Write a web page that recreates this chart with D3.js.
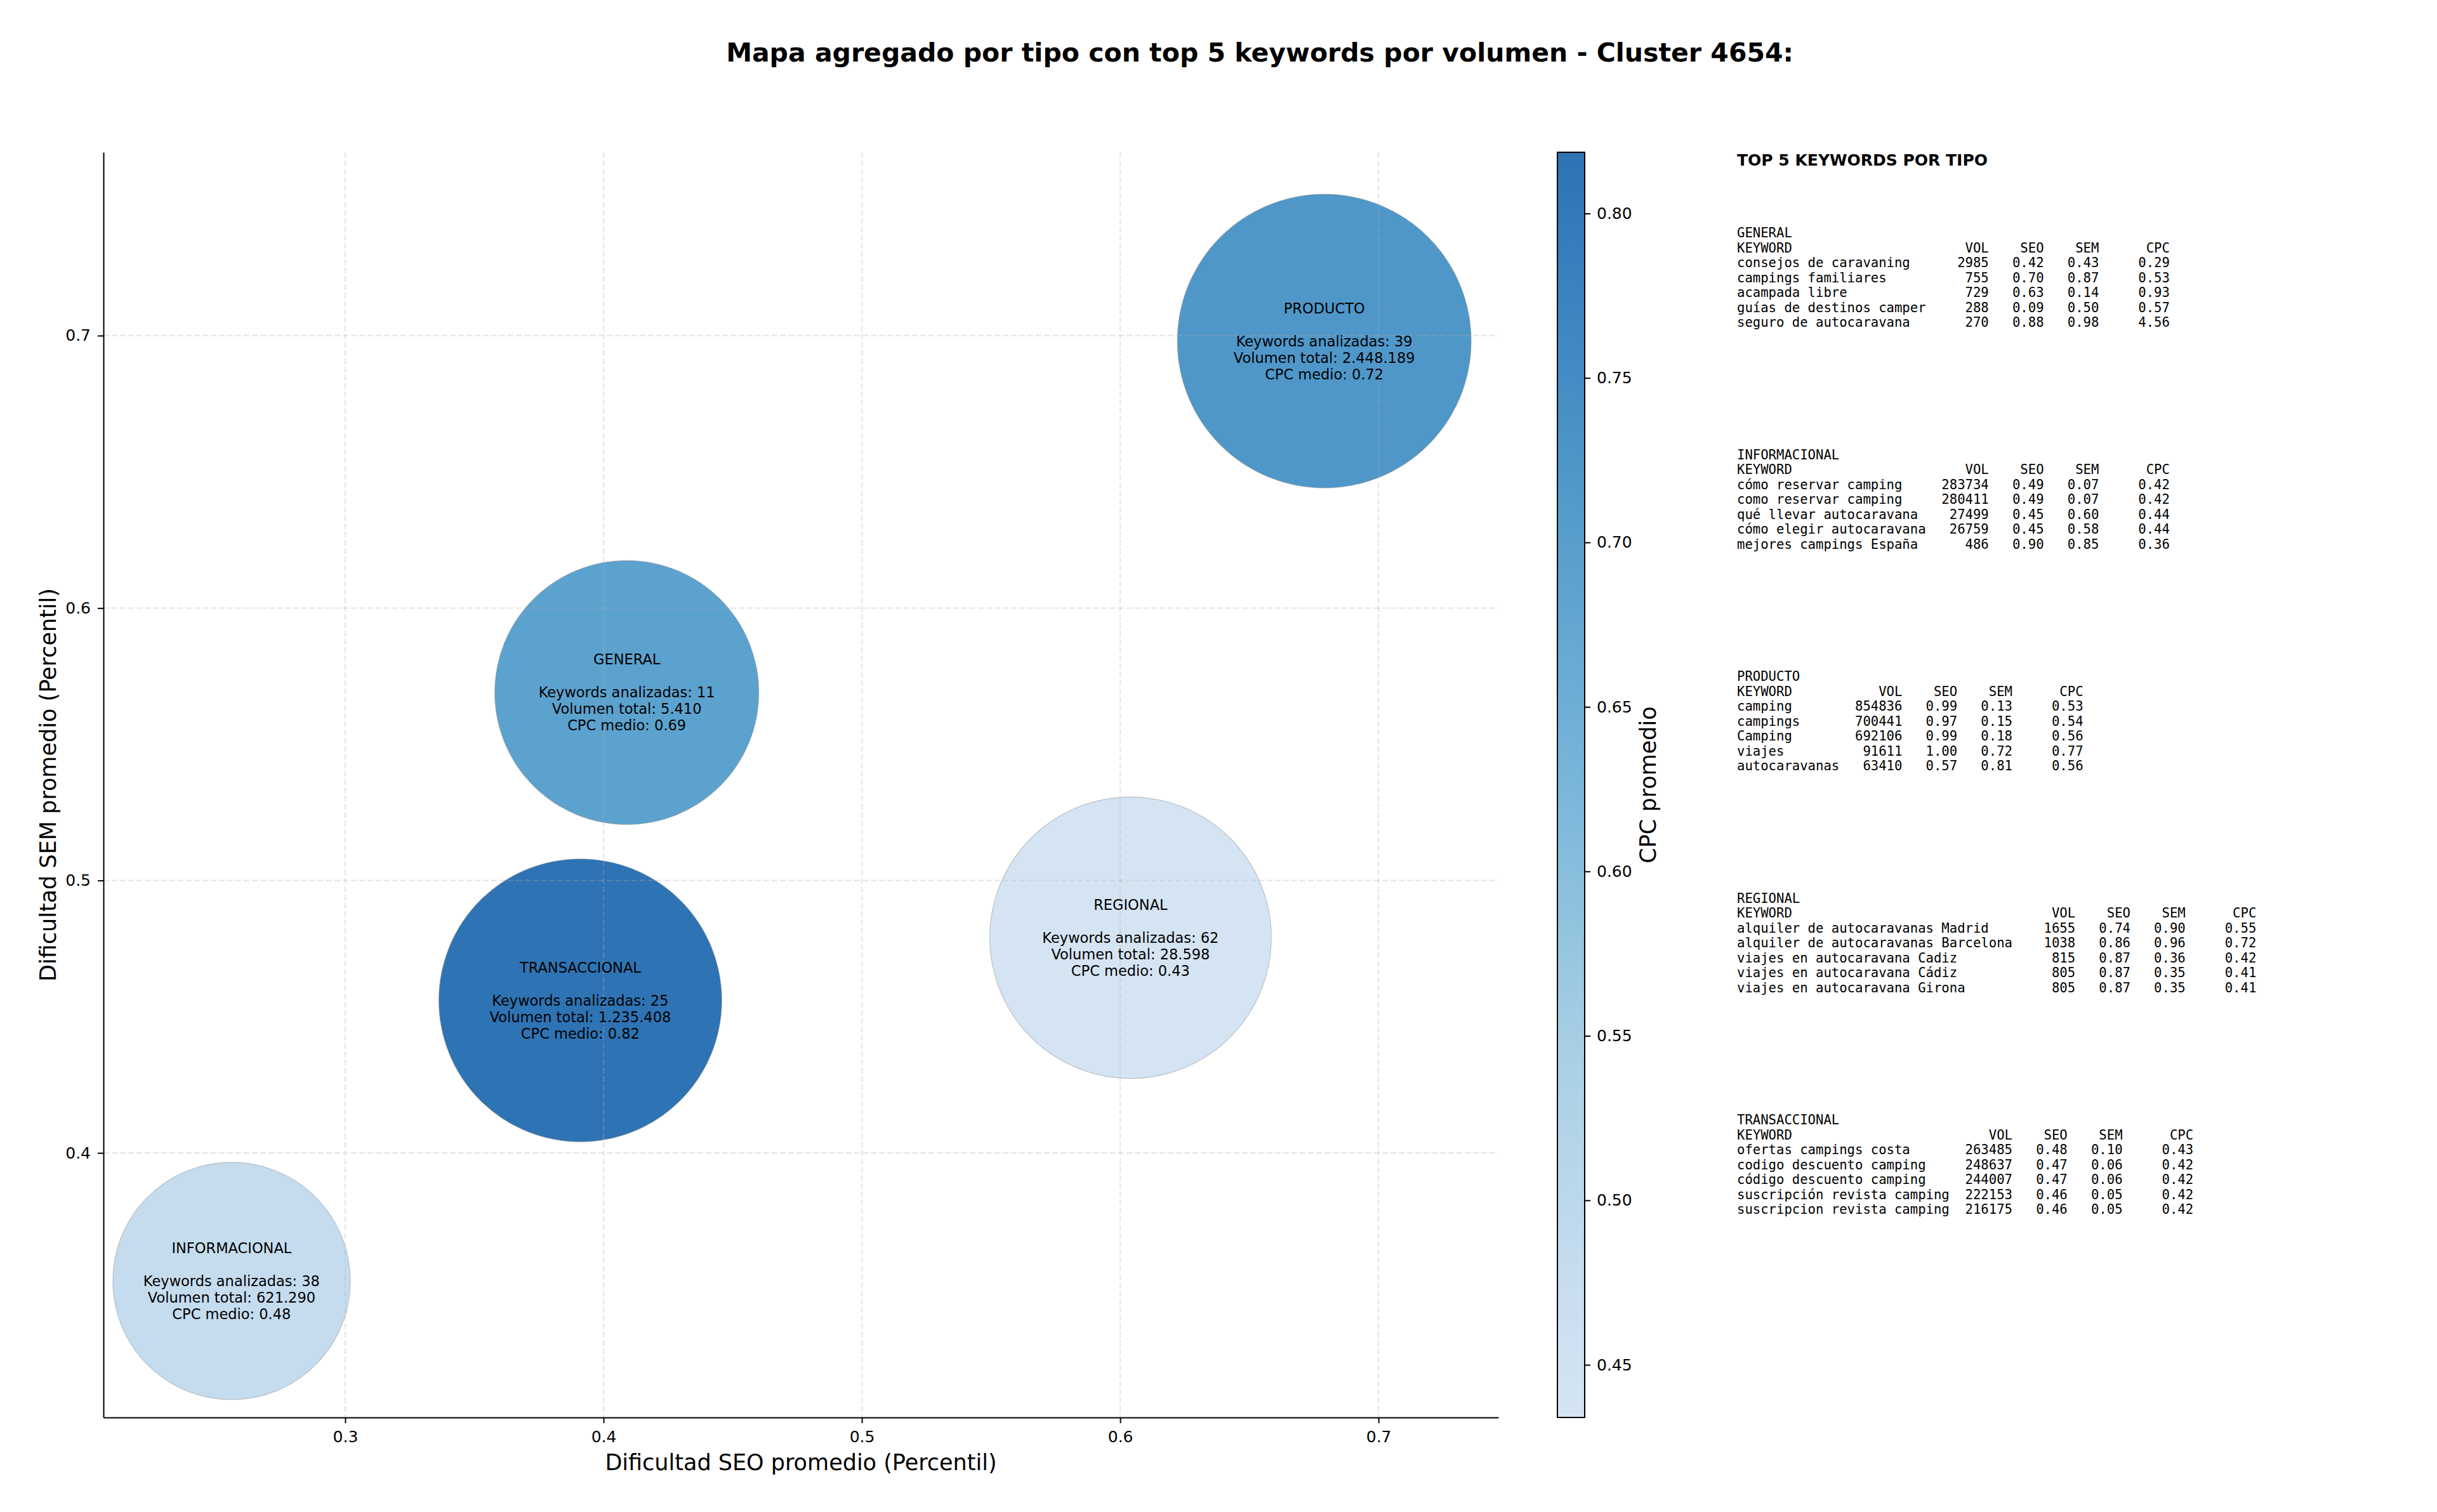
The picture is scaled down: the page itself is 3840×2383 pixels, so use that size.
<!DOCTYPE html>
<html>
<head>
<meta charset="utf-8">
<script src="https://d3js.org/d3.v7.min.js"></script>
<style>
  body { margin: 0; background: #fff; }
  text { font-family: "DejaVu Sans", sans-serif; fill: #000; }
  .mono { font-family: "DejaVu Sans Mono", monospace; white-space: pre; }
</style>
</head>
<body>
<script>
// Datos agregados por tipo
var tipos = ["GENERAL", "INFORMACIONAL", "PRODUCTO", "REGIONAL", "TRANSACCIONAL"];
var seoMedio = [0.409, 0.256, 0.679, 0.604, 0.391];
var semMedio = [0.569, 0.353, 0.698, 0.479, 0.456];
var numKeywords = [11, 38, 39, 62, 25];
var volumenTotal = [5410, 621290, 2448189, 28598, 1235408];
var cpcMedio = [0.69, 0.48, 0.72, 0.434, 0.8186];
// tamaño de marcador (area, pt^2)
var tamanoBurbuja = [27700, 22400, 34300, 31500, 31800];

var xTicks = [0.3, 0.4, 0.5, 0.6, 0.7];
var yTicks = [0.4, 0.5, 0.6, 0.7];
var cpcTicks = [0.45, 0.50, 0.55, 0.60, 0.65, 0.70, 0.75, 0.80];

// top 5 keywords: [keyword, vol, seo, sem, cpc]
var topGeneral = [
  ["consejos de caravaning", 2985, 0.42, 0.43, 0.29],
  ["campings familiares", 755, 0.70, 0.87, 0.53],
  ["acampada libre", 729, 0.63, 0.14, 0.93],
  ["guías de destinos camper", 288, 0.09, 0.50, 0.57],
  ["seguro de autocaravana", 270, 0.88, 0.98, 4.56]
];
var topInformacional = [
  ["cómo reservar camping", 283734, 0.49, 0.07, 0.42],
  ["como reservar camping", 280411, 0.49, 0.07, 0.42],
  ["qué llevar autocaravana", 27499, 0.45, 0.60, 0.44],
  ["cómo elegir autocaravana", 26759, 0.45, 0.58, 0.44],
  ["mejores campings España", 486, 0.90, 0.85, 0.36]
];
var topProducto = [
  ["camping", 854836, 0.99, 0.13, 0.53],
  ["campings", 700441, 0.97, 0.15, 0.54],
  ["Camping", 692106, 0.99, 0.18, 0.56],
  ["viajes", 91611, 1.00, 0.72, 0.77],
  ["autocaravanas", 63410, 0.57, 0.81, 0.56]
];
var topRegional = [
  ["alquiler de autocaravanas Madrid", 1655, 0.74, 0.90, 0.55],
  ["alquiler de autocaravanas Barcelona", 1038, 0.86, 0.96, 0.72],
  ["viajes en autocaravana Cadiz", 815, 0.87, 0.36, 0.42],
  ["viajes en autocaravana Cádiz", 805, 0.87, 0.35, 0.41],
  ["viajes en autocaravana Girona", 805, 0.87, 0.35, 0.41]
];
var topTransaccional = [
  ["ofertas campings costa", 263485, 0.48, 0.10, 0.43],
  ["codigo descuento camping", 248637, 0.47, 0.06, 0.42],
  ["código descuento camping", 244007, 0.47, 0.06, 0.42],
  ["suscripción revista camping", 222153, 0.46, 0.05, 0.42],
  ["suscripcion revista camping", 216175, 0.46, 0.05, 0.42]
];
var topPorTipo = [topGeneral, topInformacional, topProducto, topRegional, topTransaccional];

// Layout
var svgWidth = 3840;
var svgHeight = 2383;
var margin = { top: 240, left: 163 };
var width = 2198;
var height = 1994;

var svg = d3.select("body")
  .append("svg")
  .attr("width", svgWidth)
  .attr("height", svgHeight)
  .style("background", "#fff");

svg.append("text")
  .attr("x", 1985)
  .attr("y", 97)
  .attr("text-anchor", "middle")
  .style("font-size", "41px")
  .style("font-weight", "bold")
  .text("Mapa agregado por tipo con top 5 keywords por volumen - Cluster 4654:");

var chartGroup = svg.append("g")
  .attr("transform", `translate(${margin.left}, ${margin.top})`);

// scales
var xScale = d3.scaleLinear().domain([0.2064, 0.7464]).range([0, width]);
var yScale = d3.scaleLinear().domain([0.3029, 0.7673]).range([height, 0]);
var rScale = d3.scaleSqrt().domain([0, 34300]).range([0, 231.5]);

var bluesStops = ["#f7fbff", "#deebf7", "#c6dbef", "#9ecae1", "#6baed6", "#4292c6", "#2171b5", "#08519c", "#08306b"];
var blues = d3.scaleLinear()
  .domain(d3.range(9).map(function (i) { return i / 8; }))
  .range(bluesStops)
  .interpolate(d3.interpolateRgb);
var cpcExtent = d3.extent(cpcMedio);
var cpcNorm = d3.scaleLinear().domain(cpcExtent).range([0.2, 0.8]);
function colorCPC(v) { return blues(cpcNorm(v)); }

var fmtMiles = d3.formatLocale({ decimal: ",", thousands: ".", grouping: [3], currency: ["", ""] }).format(",d");

var datos = tipos.map(function (t, i) {
  return { tipo: t, seo: seoMedio[i], sem: semMedio[i], n: numKeywords[i],
           vol: volumenTotal[i], cpc: cpcMedio[i], s: tamanoBurbuja[i] };
});

// bubbles
chartGroup.selectAll("circle.burbuja")
  .data(datos)
  .enter()
  .append("circle")
  .attr("class", "burbuja")
  .attr("cx", function (d) { return xScale(d.seo); })
  .attr("cy", function (d) { return yScale(d.sem); })
  .attr("r", function (d) { return rScale(d.s); })
  .attr("fill", function (d) { return colorCPC(d.cpc); })
  .attr("fill-opacity", 0.9)
  .attr("stroke", "#8a8a8a")
  .attr("stroke-opacity", 0.45)
  .attr("stroke-width", 1.2);

// grid (drawn over the bubbles like matplotlib)
var grid = chartGroup.append("g")
  .attr("stroke", "#b0b0b0")
  .attr("stroke-opacity", 0.3)
  .attr("stroke-width", 2.2)
  .attr("stroke-dasharray", "9,4");
grid.selectAll("line.gx")
  .data(xTicks)
  .enter()
  .append("line")
  .attr("x1", function (d) { return xScale(d); })
  .attr("x2", function (d) { return xScale(d); })
  .attr("y1", 0)
  .attr("y2", height);
grid.selectAll("line.gy")
  .data(yTicks)
  .enter()
  .append("line")
  .attr("x1", 0)
  .attr("x2", width)
  .attr("y1", function (d) { return yScale(d); })
  .attr("y2", function (d) { return yScale(d); });

// labels inside the bubbles
var etiquetas = chartGroup.selectAll("g.etiqueta")
  .data(datos)
  .enter()
  .append("g")
  .attr("class", "etiqueta")
  .attr("transform", function (d) { return `translate(${xScale(d.seo)},${yScale(d.sem)})`; });

etiquetas.each(function (d) {
  var lineas = [d.tipo, "", "Keywords analizadas: " + d.n,
    "Volumen total: " + fmtMiles(d.vol), "CPC medio: " + d.cpc.toFixed(2)];
  d3.select(this).selectAll("text")
    .data(lineas)
    .enter()
    .append("text")
    .attr("y", function (l, i) { return (i - 2) * 26; })
    .attr("dominant-baseline", "central")
    .attr("text-anchor", "middle")
    .style("font-size", "22.5px")
    .text(function (l) { return l; });
});

// axes
var xAxis = d3.axisBottom(xScale).tickValues(xTicks).tickFormat(d3.format(".1f"))
  .tickSize(9).tickSizeOuter(0).tickPadding(12);
var yAxis = d3.axisLeft(yScale).tickValues(yTicks).tickFormat(d3.format(".1f"))
  .tickSize(9).tickSizeOuter(0).tickPadding(11);

var gx = chartGroup.append("g")
  .attr("transform", `translate(0,${height})`)
  .call(xAxis);
var gy = chartGroup.append("g")
  .call(yAxis);

[gx, gy].forEach(function (g) {
  g.select(".domain").attr("stroke", "#000").attr("stroke-width", 2);
  g.selectAll(".tick line").attr("stroke", "#000").attr("stroke-width", 2);
  g.selectAll(".tick text")
    .attr("fill", "#000")
    .style("font-family", "DejaVu Sans")
    .style("font-size", "25px");
});

chartGroup.append("text")
  .attr("x", width / 2)
  .attr("y", 2317 - margin.top)
  .attr("text-anchor", "middle")
  .style("font-size", "35px")
  .text("Dificultad SEO promedio (Percentil)");

svg.append("text")
  .attr("transform", `translate(76,${margin.top + height / 2})rotate(-90)`)
  .attr("text-anchor", "middle")
  .attr("dominant-baseline", "central")
  .style("font-size", "35px")
  .text("Dificultad SEM promedio (Percentil)");

// colorbar
var cbX = 2454;
var cbW = 43;
var cbScale = d3.scaleLinear().domain(cpcExtent).range([margin.top + height, margin.top]);

var grad = svg.append("defs").append("linearGradient")
  .attr("id", "cbGrad")
  .attr("x1", 0).attr("y1", 1).attr("x2", 0).attr("y2", 0);
grad.selectAll("stop")
  .data(d3.range(0, 1.0001, 0.02))
  .enter()
  .append("stop")
  .attr("offset", function (t) { return t; })
  .attr("stop-color", function (t) { return blues(0.2 + 0.6 * t); });

svg.append("rect")
  .attr("x", cbX)
  .attr("y", margin.top)
  .attr("width", cbW)
  .attr("height", height)
  .attr("fill", "url(#cbGrad)")
  .attr("fill-opacity", 0.9);
svg.append("rect")
  .attr("x", cbX)
  .attr("y", margin.top)
  .attr("width", cbW)
  .attr("height", height)
  .attr("fill", "none")
  .attr("stroke", "#000")
  .attr("stroke-width", 2);

var cbAxis = d3.axisRight(cbScale).tickValues(cpcTicks).tickFormat(d3.format(".2f"))
  .tickSize(9).tickSizeOuter(0).tickPadding(10);
var gcb = svg.append("g")
  .attr("transform", `translate(${cbX + cbW},0)`)
  .call(cbAxis);
gcb.select(".domain").remove();
gcb.selectAll(".tick line").attr("stroke", "#000").attr("stroke-width", 2);
gcb.selectAll(".tick text")
  .attr("fill", "#000")
  .style("font-family", "DejaVu Sans")
  .style("font-size", "25px");

svg.append("text")
  .attr("transform", `translate(2597,${margin.top + height / 2})rotate(-90)`)
  .attr("text-anchor", "middle")
  .attr("dominant-baseline", "central")
  .style("font-size", "35px")
  .text("CPC promedio");

// top 5 keywords panel
var panelX = 2737;
svg.append("text")
  .attr("x", panelX)
  .attr("y", 261)
  .style("font-size", "25px")
  .style("font-weight", "bold")
  .text("TOP 5 KEYWORDS POR TIPO");

tipos.forEach(function (t, i) {
  var filas = topPorTipo[i];
  var ancho = d3.max(filas, function (f) { return f[0].length; });
  var lineas = [t,
    "KEYWORD".padEnd(ancho) + "VOL".padStart(8) + "SEO".padStart(7) + "SEM".padStart(7) + "CPC".padStart(9)];
  filas.forEach(function (f) {
    lineas.push(f[0].padEnd(ancho) + String(f[1]).padStart(8) + f[2].toFixed(2).padStart(7) +
      f[3].toFixed(2).padStart(7) + f[4].toFixed(2).padStart(9));
  });
  var y0 = 374 + i * 349.5;
  svg.append("g").selectAll("text")
    .data(lineas)
    .enter()
    .append("text")
    .attr("class", "mono")
    .attr("x", panelX)
    .attr("y", function (l, j) { return y0 + j * 23.5; })
    .style("font-size", "20.6px")
    .text(function (l) { return l; });
});
</script>
</body>
</html>
